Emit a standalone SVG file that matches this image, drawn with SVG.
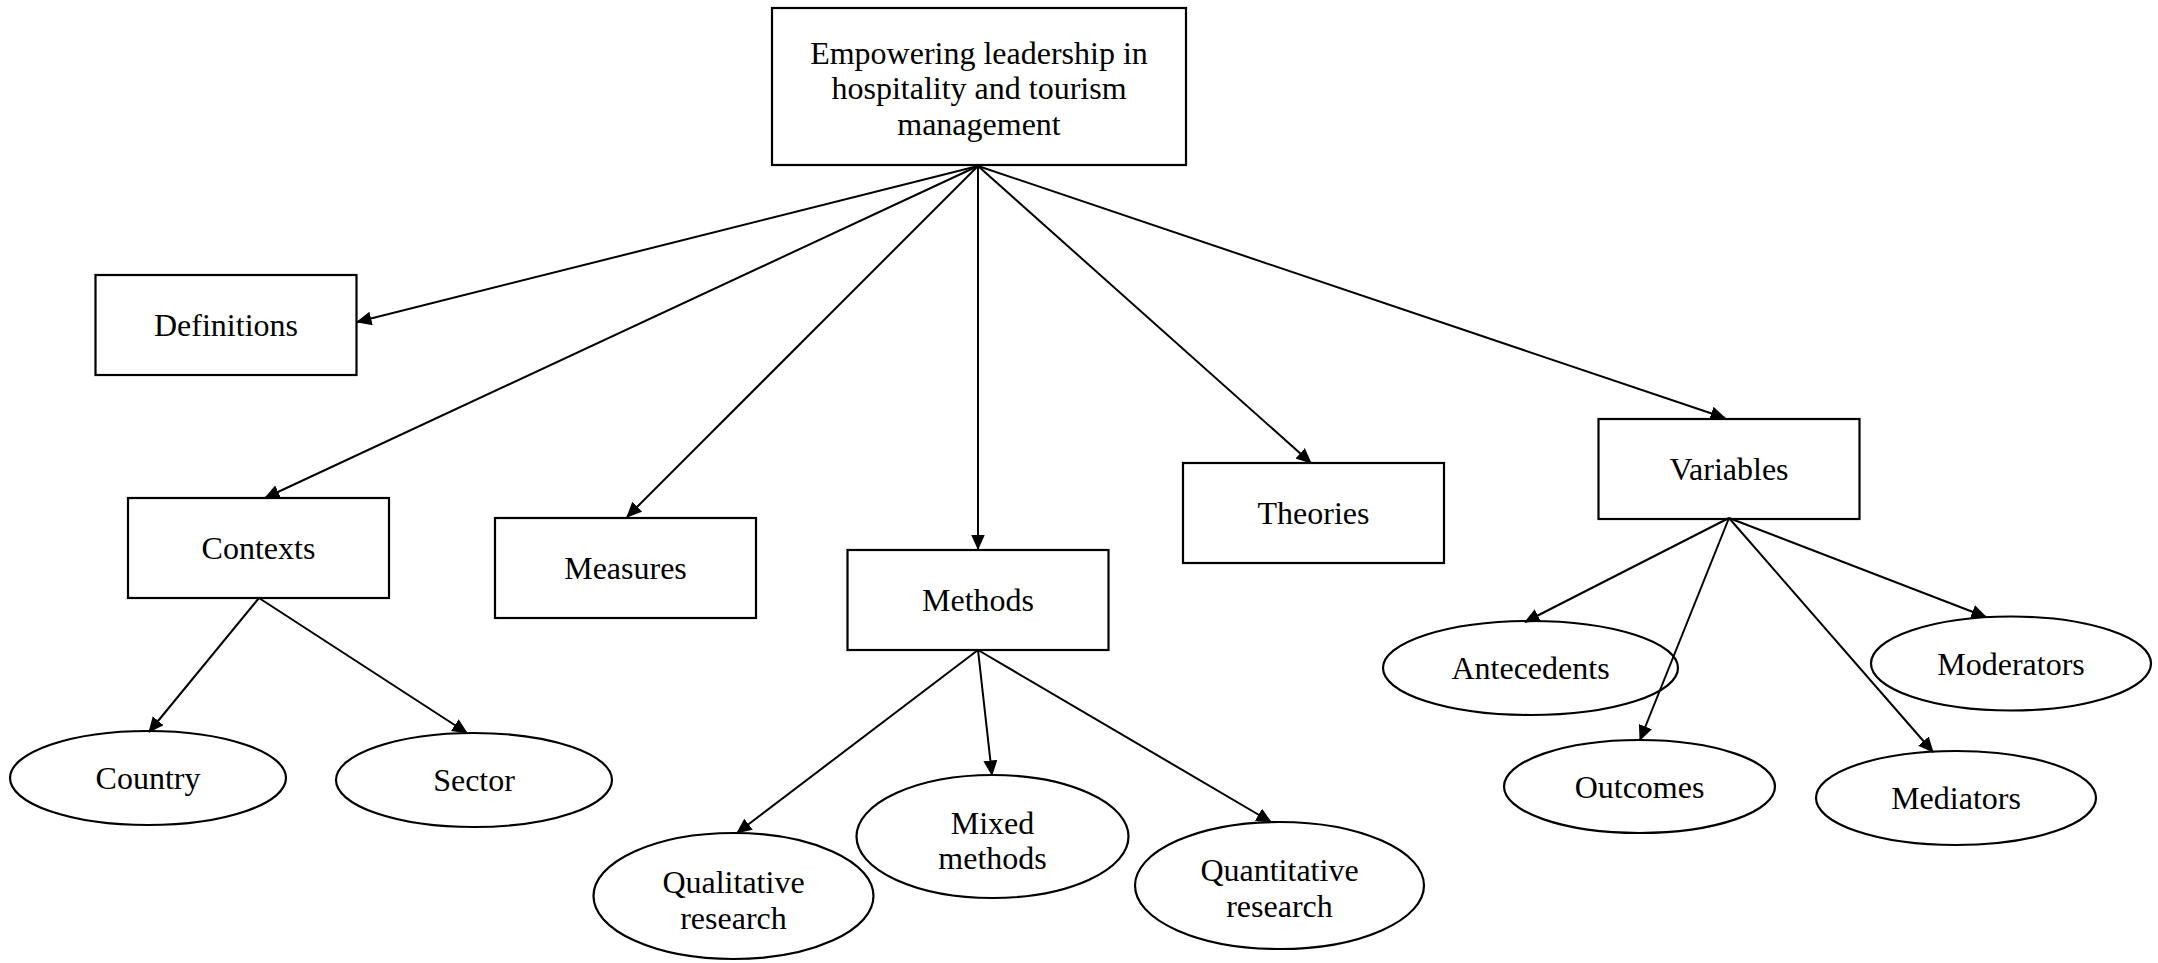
<svg xmlns="http://www.w3.org/2000/svg" width="2158" height="963" viewBox="0 0 2158 963">
<style>
.box{fill:none;stroke:#000;stroke-width:2.2}
.ell{fill:none;stroke:#000;stroke-width:2.2}
.lbl{font-family:"Liberation Serif","Times New Roman",serif;font-size:32px;fill:#000;text-anchor:middle}
.edge{fill:none;stroke:#000;stroke-width:2}
</style>
<defs>
<marker id="arr" markerUnits="userSpaceOnUse" markerWidth="18" markerHeight="16" refX="14.5" refY="7" orient="auto">
<path d="M0,0 L15.5,7 L0,14 z" fill="#000"/>
</marker>
</defs>
<rect width="2158" height="963" fill="#fff"/>
<g id="connectors">
<path class="edge" marker-end="url(#arr)" d="M978,166 L357,322"/>
<path class="edge" marker-end="url(#arr)" d="M978,166 L265,498"/>
<path class="edge" marker-end="url(#arr)" d="M978,166 L627,517"/>
<path class="edge" marker-end="url(#arr)" d="M978,166 L978,549"/>
<path class="edge" marker-end="url(#arr)" d="M978,166 L1311,463"/>
<path class="edge" marker-end="url(#arr)" d="M978,166 L1725,418"/>
<path class="edge" marker-end="url(#arr)" d="M259,598 L149,732"/>
<path class="edge" marker-end="url(#arr)" d="M259,598 L467,733"/>
<path class="edge" marker-end="url(#arr)" d="M978,650 L737,833"/>
<path class="edge" marker-end="url(#arr)" d="M978,650 L992,775"/>
<path class="edge" marker-end="url(#arr)" d="M978,650 L1271,822"/>
<path class="edge" marker-end="url(#arr)" d="M1729,518 L1525,622"/>
<path class="edge" marker-end="url(#arr)" d="M1729,518 L1640,740"/>
<path class="edge" marker-end="url(#arr)" d="M1729,518 L1933,752"/>
<path class="edge" marker-end="url(#arr)" d="M1729,518 L1986,617"/>
</g>
<g id="root">
<rect class="box" x="772" y="8" width="414" height="157"/>
<text class="lbl" x="979" y="63.5">Empowering leadership in</text>
<text class="lbl" x="979" y="99">hospitality and tourism</text>
<text class="lbl" x="979" y="134.5">management</text>
</g>
<g id="definitions">
<rect class="box" x="95.5" y="275" width="261" height="100"/>
<text class="lbl" x="226" y="336">Definitions</text>
</g>
<g id="contexts">
<rect class="box" x="128" y="498" width="261" height="100"/>
<text class="lbl" x="258.5" y="559">Contexts</text>
</g>
<g id="measures">
<rect class="box" x="495" y="518" width="261" height="100"/>
<text class="lbl" x="625.5" y="579">Measures</text>
</g>
<g id="methods">
<rect class="box" x="847.5" y="550" width="261" height="100"/>
<text class="lbl" x="978" y="611">Methods</text>
</g>
<g id="theories">
<rect class="box" x="1183" y="463" width="261" height="100"/>
<text class="lbl" x="1313.5" y="524">Theories</text>
</g>
<g id="variables">
<rect class="box" x="1598.5" y="419" width="261" height="100"/>
<text class="lbl" x="1729" y="480">Variables</text>
</g>
<g id="country">
<ellipse class="ell" cx="148" cy="778" rx="138" ry="47"/>
<text class="lbl" x="148" y="789">Country</text>
</g>
<g id="sector">
<ellipse class="ell" cx="474" cy="780" rx="138" ry="47"/>
<text class="lbl" x="474" y="791">Sector</text>
</g>
<g id="qualitative">
<ellipse class="ell" cx="733.5" cy="896" rx="140" ry="63"/>
<text class="lbl" x="733.5" y="893">Qualitative</text>
<text class="lbl" x="733.5" y="928.5">research</text>
</g>
<g id="mixed">
<ellipse class="ell" cx="992.5" cy="836.5" rx="136" ry="61.5"/>
<text class="lbl" x="992.5" y="833.5">Mixed</text>
<text class="lbl" x="992.5" y="869">methods</text>
</g>
<g id="quantitative">
<ellipse class="ell" cx="1279.5" cy="885.5" rx="144.5" ry="63.5"/>
<text class="lbl" x="1279.5" y="881">Quantitative</text>
<text class="lbl" x="1279.5" y="916.5">research</text>
</g>
<g id="antecedents">
<ellipse class="ell" cx="1530.5" cy="668" rx="147.5" ry="47"/>
<text class="lbl" x="1530.5" y="679">Antecedents</text>
</g>
<g id="outcomes">
<ellipse class="ell" cx="1639.5" cy="786.5" rx="135.5" ry="46.5"/>
<text class="lbl" x="1639.5" y="797.5">Outcomes</text>
</g>
<g id="moderators">
<ellipse class="ell" cx="2011" cy="663.5" rx="140" ry="47"/>
<text class="lbl" x="2011" y="674.5">Moderators</text>
</g>
<g id="mediators">
<ellipse class="ell" cx="1956" cy="798" rx="140" ry="47"/>
<text class="lbl" x="1956" y="809">Mediators</text>
</g>
</svg>
